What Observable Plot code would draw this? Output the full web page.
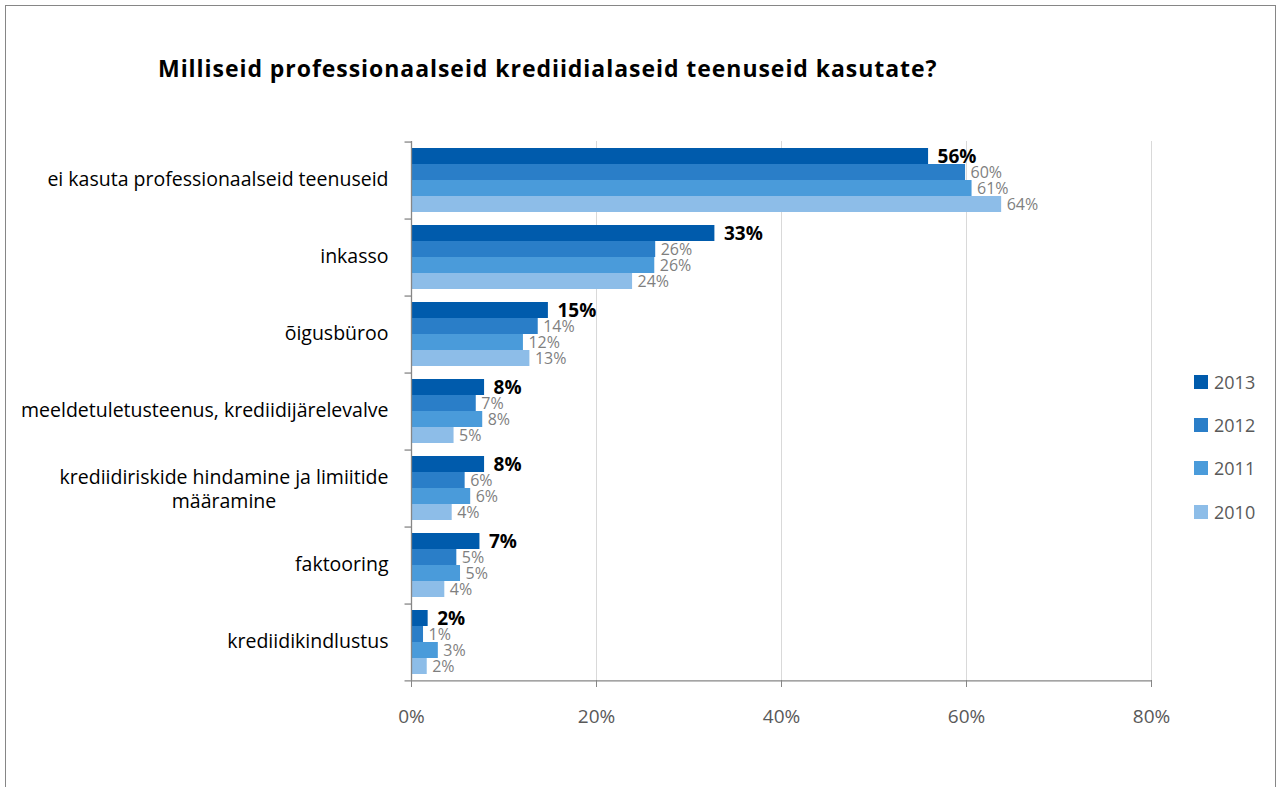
<!DOCTYPE html>
<html><head><meta charset="utf-8">
<script src="https://cdn.jsdelivr.net/npm/d3@7"></script>
<script src="https://cdn.jsdelivr.net/npm/@observablehq/plot@0.6"></script>
<style>
body{margin:0;background:#fff;font-family:"Open Sans",Lato,sans-serif;}
#wrap{position:relative;width:1281px;height:787px;overflow:hidden;}
#border{position:absolute;left:5px;top:5px;width:1271px;height:900px;border:1px solid #868686;box-sizing:border-box;}
#title{position:absolute;left:158px;top:52px;font-weight:bold;color:#000;white-space:nowrap;line-height:normal;font-size:23px;letter-spacing:0.95px;}
#legend{position:absolute;left:1194px;top:360px;}
.li{display:flex;align-items:center;height:43.3px;font-size:18px;color:#595959}
.sw{width:14px;height:14px;margin-right:6px}
#chart{position:absolute;left:0;top:0;}
</style></head>
<body>
<div id="wrap">
<div id="border"></div>
<div id="chart"></div>
<div id="title">Milliseid professionaalseid krediidialaseid teenuseid kasutate?</div>
<div id="legend"></div>
</div>
<script>
const categories = ["ei kasuta professionaalseid teenuseid","inkasso","õigusbüroo","meeldetuletusteenus, krediidijärelevalve","krediidiriskide hindamine ja limiitide määramine","faktooring","krediidikindlustus"];
const categoryLabels = ["ei kasuta professionaalseid teenuseid","inkasso","õigusbüroo","meeldetuletusteenus, krediidijärelevalve","krediidiriskide hindamine ja limiitide\nmääramine","faktooring","krediidikindlustus"];
const years = ["2013","2012","2011","2010"];
const v2013 = [55.9, 32.8, 14.8, 7.9, 7.9, 7.4, 1.8];
const v2012 = [59.9, 26.4, 13.7, 7.0, 5.8, 4.9, 1.3];
const v2011 = [60.6, 26.3, 12.1, 7.7, 6.4, 5.3, 2.9];
const v2010 = [63.8, 23.9, 12.8, 4.6, 4.4, 3.6, 1.7];
const xTicks = [0, 20, 40, 60, 80];
const colors = ["#005BAC", "#2A7EC8", "#4A9BDA", "#8DBDE8"];

const series = [v2013, v2012, v2011, v2010];
const rows = [];
categories.forEach((c, i) => years.forEach((y, j) => rows.push({category: c, year: y, value: series[j][i]})));
const labelRows = categories.map((c, i) => ({category: c, label: categoryLabels[i]}));

const FONT = "'Open Sans', Lato, sans-serif";
const ctx = document.createElement("canvas").getContext("2d");
function measure(text, size, weight) { ctx.font = `${weight || "normal"} ${size}px 'Open Sans'`; return ctx.measureText(text).width; }

const catSize = 19.5;
const single = labelRows.filter(d => !d.label.includes("\n"));
const multi = labelRows.filter(d => d.label.includes("\n"));
const firstW = multi.length ? measure(multi[0].label.split("\n")[0], catSize) : 0;

const bandOff = 14.44; // half band + outer padding inside each facet
const plot = Plot.plot({
  width: 1281, height: 787,
  marginLeft: 411, marginRight: 130, marginTop: 141, marginBottom: 107,
  style: {fontFamily: FONT, background: "transparent", overflow: "visible"},
  x: {domain: [0, 80], axis: null},
  y: {domain: years, paddingInner: 0, paddingOuter: 0.4, axis: null},
  fy: {domain: categories, padding: 0, axis: null},
  color: {domain: years, range: colors},
  marks: [
    Plot.gridX(xTicks.slice(1), {stroke: "#d9d9d9", strokeOpacity: 1}),
    Plot.barX(rows, {fy: "category", y: "year", x: "value", fill: "year"}),
    Plot.ruleX([0], {stroke: "#868686", strokeWidth: 1.3}),
    Plot.ruleY(labelRows, {fy: "category", y: () => years[0], x1: -0.7, x2: 0, dy: -bandOff, stroke: "#868686", strokeWidth: 1.3}),
    Plot.ruleY(labelRows.slice(-1), {fy: "category", y: () => years[years.length - 1], x1: -0.7, x2: 80, dy: bandOff, stroke: "#868686", strokeWidth: 1.3}),
    Plot.text(rows.filter(d => d.year === years[0]), {fy: "category", y: "year", x: "value", text: d => `${Math.round(d.value)}%`, textAnchor: "start", dx: 9, fontSize: 19, fontWeight: "bold", fill: "#000"}),
    Plot.text(rows.filter(d => d.year !== years[0]), {fy: "category", y: "year", x: "value", text: d => `${Math.round(d.value)}%`, textAnchor: "start", dx: 5, fontSize: 16, fill: "#7f7f7f"}),
    Plot.text(single, {fy: "category", text: "label", frameAnchor: "left", textAnchor: "end", dx: -23, fontSize: catSize, fill: "#000"}),
    Plot.text(multi, {fy: "category", text: "label", frameAnchor: "left", textAnchor: "middle", dx: -23 - firstW / 2, lineHeight: 1.25, fontSize: catSize, fill: "#000"}),
    Plot.axisX({ticks: xTicks, tickFormat: d => `${d}%`, tickSize: 7, tickPadding: 22, fontSize: 19, stroke: "#868686", fill: "#595959", label: null})
  ]
});
document.getElementById("chart").appendChild(plot);

const legend = document.getElementById("legend");
years.forEach((y, j) => {
  const item = document.createElement("div");
  item.className = "li";
  item.innerHTML = `<div class="sw" style="background:${colors[j]}"></div><span>${y}</span>`;
  legend.appendChild(item);
});
</script>
</body></html>
